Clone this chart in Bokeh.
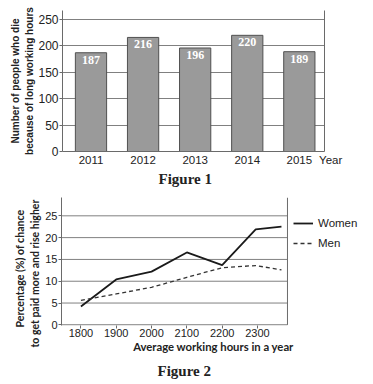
from bokeh.plotting import figure
from bokeh.models import (FixedTicker, LinearAxis, Legend, LegendItem, Range1d, Title)
from bokeh.layouts import column
from bokeh.embed import file_html
from bokeh.resources import INLINE
from bokeh.core.properties import value

# ---- Figure 1 data ----
years = ["2011", "2012", "2013", "2014", "2015"]
deaths = [187, 216, 196, 220, 189]
fig1_yticks = [0, 50, 100, 150, 200, 250]

# ---- Figure 2 data ----
hour_ticks = [1800, 1900, 2000, 2100, 2200, 2300]
women_x = [1800, 1900, 2000, 2100, 2200, 2295, 2368]
women_y = [4.2, 10.4, 12.2, 16.6, 13.7, 21.9, 22.5]
men_x = [1800, 1900, 2000, 2100, 2200, 2295, 2368]
men_y = [5.6, 7.1, 8.6, 10.9, 13.1, 13.6, 12.6]
fig2_yticks = [0, 5, 10, 15, 20, 25]

SANS = "Liberation Sans"
SERIF = "Liberation Serif"
GRID = "#808080"
AXIS = "#6a6a6a"
TXT = "#222222"
NB = "\u00a0"


def style_axis(ax, size):
    ax.minor_tick_line_color = None
    ax.major_tick_in = 0
    ax.major_tick_line_color = AXIS
    ax.axis_line_color = AXIS
    ax.major_label_text_font = SANS
    ax.major_label_text_font_size = size
    ax.major_label_text_color = TXT


def side_title(p, text, font, size, standoff, align="center", offset=0):
    p.add_layout(Title(text=text, align=align, offset=offset, vertical_align="middle",
                       text_font=font, text_font_style="bold", text_font_size=size,
                       text_color=TXT, standoff=standoff), "left")


def left_spacer(p, size):
    p.add_layout(Title(text=NB, text_font_size=size, standoff=0, text_alpha=0), "left")


# ================= Figure 1 =================
idx = list(range(len(years)))
X1_END = 4.483
p1 = figure(frame_width=262, frame_height=141, x_range=Range1d(-0.547, X1_END),
            y_range=Range1d(0, 267), output_backend="svg", toolbar_location=None,
            min_border_left=62, min_border_right=49, min_border_top=10, min_border_bottom=39)
p1.frame_align = False
p1.outline_line_color = None
p1.vbar(x=idx, top=deaths, width=0.6, fill_color="#9a9a9a", line_color="#505050", line_width=1)
p1.text(x=idx, y=deaths, text=[str(d) for d in deaths], text_align="center", text_baseline="top",
        y_offset=3, text_color="white", text_font=value(SERIF), text_font_style="bold",
        text_font_size="12px")

style_axis(p1.xaxis[0], "11.5px")
p1.xaxis.ticker = FixedTicker(ticks=idx + [X1_END - 0.003])
labels1 = {i: y for i, y in zip(idx, years)}
labels1[X1_END - 0.003] = NB * 4 + "Year"
p1.xaxis.major_label_overrides = labels1
p1.xaxis.major_tick_line_color = None
p1.xaxis.major_tick_out = 0
p1.xaxis.major_label_standoff = 2

style_axis(p1.yaxis[0], "12px")
p1.yaxis.ticker = FixedTicker(ticks=fig1_yticks)
p1.yaxis.major_tick_out = 3
p1.yaxis.major_label_standoff = 1
side_title(p1, "because of long working hours", SANS, "10px", 0)
side_title(p1, "Number of people who die", SANS, "10px", 1)
left_spacer(p1, "7px")

p1.xgrid.grid_line_color = None
p1.ygrid.ticker = FixedTicker(ticks=fig1_yticks)
p1.ygrid.grid_line_color = GRID

p1.add_layout(LinearAxis(major_tick_line_color=None, minor_tick_line_color=None,
                         major_tick_out=0, minor_tick_out=0,
                         major_label_text_font_size="1px", major_label_text_alpha=0,
                         axis_line_color=AXIS, ticker=FixedTicker(ticks=fig1_yticks)), "right")

p1.add_layout(Title(text="Figure 1", align="left", offset=96, text_font=SERIF,
                    text_font_style="bold", text_font_size="15px", text_color=TXT,
                    standoff=0), "below")

# ================= Figure 2 =================
AREA_END = 2385
X2_START = 1745
p2 = figure(frame_width=304, frame_height=128, x_range=Range1d(X2_START, 2606),
            y_range=Range1d(-0.15, 29.2), output_backend="svg", toolbar_location=None,
            min_border_left=61, min_border_right=0, min_border_top=7, min_border_bottom=50)
p2.frame_align = False
p2.outline_line_color = None
p2.xgrid.grid_line_color = None
p2.ygrid.grid_line_color = None

# grid lines, bottom line and right border of the plotting area
n_grid = len(fig2_yticks) - 1
p2.segment(x0=[X2_START] * n_grid, x1=[AREA_END] * n_grid,
           y0=fig2_yticks[1:], y1=fig2_yticks[1:], line_color=GRID, line_width=1)
p2.segment(x0=[X2_START], x1=[AREA_END], y0=[0], y1=[0], line_color=AXIS, line_width=1)
p2.segment(x0=[AREA_END], x1=[AREA_END], y0=[0], y1=[29.2], line_color=AXIS, line_width=1)

rw = p2.line(women_x, women_y, line_color="#1a1a1a", line_width=1.8)
rm = p2.line(men_x, men_y, line_color="#333333", line_width=1.3, line_dash="4 3")

style_axis(p2.xaxis[0], "11px")
p2.xaxis.ticker = FixedTicker(ticks=hour_ticks)
p2.xaxis.axis_line_color = None
p2.xaxis.major_tick_out = 3
p2.xaxis.major_label_standoff = 0
p2.xaxis.axis_label = "Average working hours in a year"
p2.xaxis.axis_label_text_font = "Lato"
p2.xaxis.axis_label_text_font_style = "bold"
p2.xaxis.axis_label_text_font_size = "11.3px"
p2.xaxis.axis_label_text_color = TXT
p2.xaxis.axis_label_standoff = 0

style_axis(p2.yaxis[0], "11px")
p2.yaxis.ticker = FixedTicker(ticks=fig2_yticks)
p2.yaxis.major_tick_out = 3
p2.yaxis.major_label_standoff = 1
side_title(p2, "to get paid more and rise higher", "Lato", "10.5px", 1, align="left", offset=-22)
side_title(p2, "Percentage (%) of chance", "Lato", "10.6px", 1, align="left", offset=-2)
left_spacer(p2, "8px")

leg = Legend(items=[LegendItem(label="Women", renderers=[rw]), LegendItem(label="Men", renderers=[rm])],
             location=(232, 74), padding=0, margin=0, spacing=4, glyph_width=20, glyph_height=16,
             label_height=16, label_standoff=5, label_text_font=SANS, label_text_font_size="11.5px",
             label_text_color=TXT, border_line_color=None, background_fill_alpha=0)
p2.add_layout(leg)

p2.add_layout(Title(text="Figure 2", align="left", offset=96, text_font=SERIF,
                    text_font_style="bold", text_font_size="15px", text_color=TXT,
                    standoff=10), "below")

layout = column(p1, p2)
open("out.html", "w").write(file_html(layout, INLINE))
